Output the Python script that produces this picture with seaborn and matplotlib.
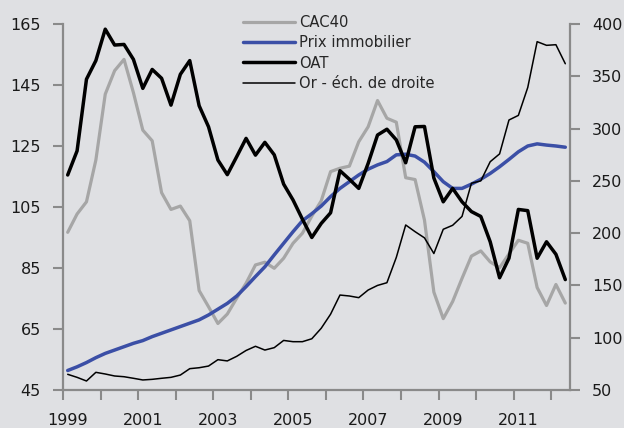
import numpy as np
import pandas as pd
import matplotlib
matplotlib.use('Agg')
import matplotlib.pyplot as plt
import seaborn as sns

# quarterly series, 1999Q1 .. 2012Q2
cac40 = [96.7, 102.7, 106.7, 120.4, 142.0, 149.7, 153.4, 142.5, 130.2, 126.7, 109.7, 104.2, 105.3, 100.5,
         77.6, 72.3, 66.8, 69.9, 75.1, 80.0, 86.0, 86.9, 84.9, 88.2, 93.1, 96.4, 102.0, 107.0,
         116.6, 117.7, 118.4, 126.4, 131.3, 139.9, 134.1, 132.8, 114.6, 114.0, 100.7, 77.1, 68.4, 74.0,
         81.6, 88.9, 90.6, 87.0, 85.1, 89.6, 94.1, 93.1, 78.6, 72.7, 79.6, 73.5]
prix_immo = [51.4, 52.6, 54.0, 55.6, 57.0, 58.1, 59.2, 60.3, 61.2, 62.5, 63.6, 64.7, 65.8, 66.9,
             68.0, 69.6, 71.5, 73.4, 75.8, 78.9, 82.2, 85.4, 89.3, 93.1, 96.9, 100.5, 102.8, 105.3,
             108.4, 111.1, 113.3, 115.5, 117.4, 118.8, 119.9, 122.1, 122.3, 121.7, 119.7, 116.6, 113.3, 111.1,
             111.1, 112.5, 114.1, 116.0, 118.2, 120.6, 123.1, 125.0, 125.7, 125.3, 125.0, 124.6]
oat = [115.5, 123.4, 146.9, 153.0, 163.3, 158.1, 158.3, 153.4, 143.9, 150.1, 147.2, 138.4, 148.5, 153.0,
       138.2, 131.3, 120.4, 115.6, 121.5, 127.5, 122.0, 126.2, 122.1, 112.5, 107.3, 101.0, 95.0, 99.6,
       103.1, 116.9, 114.1, 111.1, 119.3, 128.6, 130.5, 127.0, 119.5, 131.3, 131.4, 114.5, 106.7, 111.1,
       106.7, 103.5, 101.9, 93.6, 81.8, 88.2, 104.2, 103.8, 88.2, 93.6, 89.5, 81.2]
gold = [65.0, 62.1, 58.6, 66.9, 65.3, 63.4, 62.7, 61.2, 59.6, 60.2, 61.2, 62.1, 64.3, 70.4,
        71.3, 72.9, 79.0, 77.8, 82.2, 87.8, 91.8, 88.2, 90.5, 97.4, 96.2, 96.2, 99.0, 109.0,
        122.5, 140.8, 139.9, 138.3, 145.6, 150.0, 152.6, 176.8, 207.8, 201.4, 195.5, 180.5, 203.7, 207.5,
        216.0, 247.7, 250.0, 268.3, 275.8, 308.2, 312.6, 339.3, 383.1, 379.6, 380.2, 362.0]
year_labels = ['1999', '2001', '2003', '2005', '2007', '2009', '2011']

BG = '#dfe0e3'
AXCOL = '#8a8a8a'

sns.set_theme(style='white')
plt.rcParams['font.family'] = ['DejaVu Sans']

df = pd.DataFrame({'t': np.arange(len(cac40)), 'CAC40': cac40, 'Prix immobilier': prix_immo,
                   'OAT': oat, 'Or': gold})

fig = plt.figure(figsize=(6.24, 4.28), dpi=100, facecolor=BG)
ax = fig.add_axes([63 / 624, 1 - 390 / 428, 507 / 624, 366 / 428])
ax.set_facecolor(BG)
ax2 = ax.twinx()

sns.lineplot(data=df, x='t', y='CAC40', ax=ax, color='#a6a6a6', lw=2.3, label='CAC40', legend=False)
sns.lineplot(data=df, x='t', y='Prix immobilier', ax=ax, color='#3b4fa6', lw=2.5, label='Prix immobilier', legend=False)
sns.lineplot(data=df, x='t', y='OAT', ax=ax, color='black', lw=2.5, label='OAT', legend=False)
sns.lineplot(data=df, x='t', y='Or', ax=ax2, color='black', lw=1.1, label='Or - éch. de droite', legend=False)

ax.set_xlim(-0.5, len(cac40) - 0.5)
ax.set_ylim(45, 165)
ax2.set_ylim(50, 400)
ax.set_yticks(np.arange(45, 166, 20))
ax2.set_yticks(np.arange(50, 401, 50))
ax.set_xticks(np.arange(0, len(cac40), 8), year_labels)
ax.set_xticks(np.arange(-0.5, len(cac40) - 1, 4), minor=True)
for a in (ax, ax2):
    a.set_xlabel('')
    a.set_ylabel('')
    for s in a.spines.values():
        s.set_color(AXCOL)
        s.set_linewidth(1.6)
ax.spines['top'].set_visible(False)
ax.spines['right'].set_visible(False)
ax2.spines['top'].set_visible(False)
ax2.spines['left'].set_visible(False)
ax2.spines['bottom'].set_visible(False)

ax.tick_params(axis='y', left=True, direction='out', length=7, width=1.5, color=AXCOL,
               labelsize=11.5, labelcolor='#1a1a1a', pad=9)
ax2.tick_params(axis='y', right=True, direction='out', length=7, width=1.5, color=AXCOL,
                labelsize=11.5, labelcolor='#1a1a1a', pad=9)
ax.tick_params(axis='x', which='major', bottom=True, length=0, labelsize=11.5,
               labelcolor='#1a1a1a', pad=16.5)
ax.tick_params(axis='x', which='minor', bottom=True, direction='out', length=7, width=1.5, color=AXCOL)

h1, l1 = ax.get_legend_handles_labels()
h2, l2 = ax2.get_legend_handles_labels()
fig.legend(h1 + h2, l1 + l2, loc='upper left', bbox_to_anchor=(243 / 624, 1 - 15 / 428),
           frameon=False, fontsize=10.6, handlelength=3.5, handletextpad=0.3,
           labelspacing=0.36, borderpad=0, borderaxespad=0)

fig.savefig('out.png', dpi=100, facecolor=BG)
